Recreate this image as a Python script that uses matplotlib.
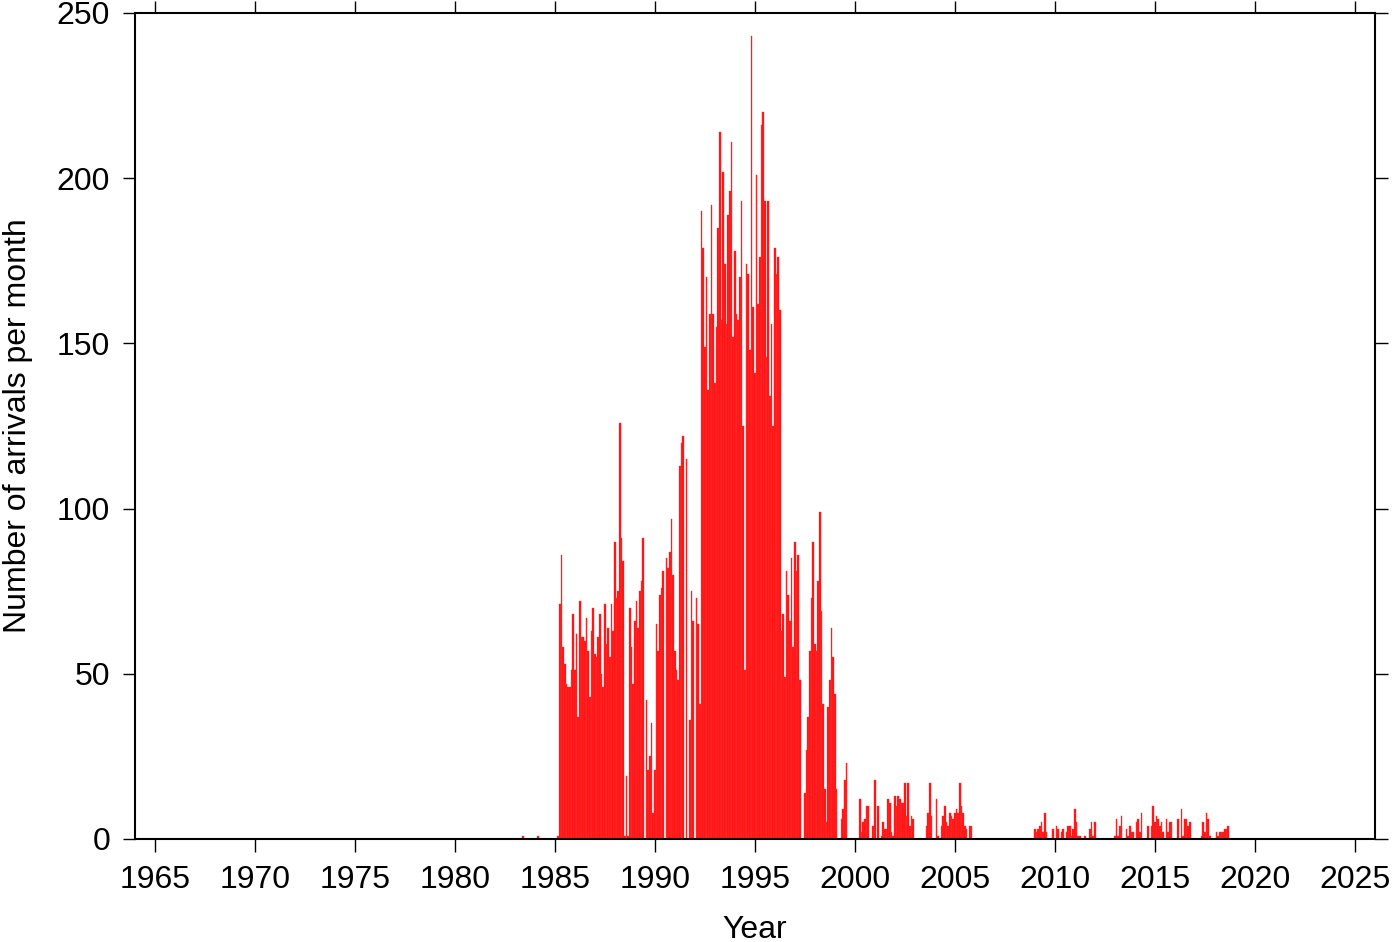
"""Monthly arrivals bar chart, GMT-like frame, saved as out.png."""
import matplotlib

matplotlib.use("Agg")
import matplotlib.pyplot as plt
import numpy as np

# monthly counts, one row per year (Jan..Dec)
START_YEAR = 1983
counts_1983_1991 = [
    [0, 0, 0, 0, 1, 0, 0, 0, 0, 0, 0, 0],                    # 1983
    [0, 1, 0, 0, 0, 0, 0, 0, 0, 0, 0, 0],                    # 1984
    [0, 1, 71, 86, 58, 53, 47, 46, 46, 51, 68, 51],          # 1985
    [62, 37, 72, 61, 61, 60, 67, 57, 43, 63, 70, 56],        # 1986
    [55, 61, 68, 50, 46, 71, 59, 64, 55, 71, 63, 90],        # 1987
    [73, 75, 126, 91, 84, 1, 19, 1, 70, 58, 47, 66],         # 1988
    [72, 64, 75, 78, 91, 0, 42, 21, 25, 35, 8, 21],          # 1989
    [65, 57, 74, 76, 81, 0, 85, 82, 87, 97, 80, 57],         # 1990
    [51, 48, 113, 120, 122, 0, 115, 0, 36, 75, 66, 0],       # 1991
]
counts_1992_1999 = [
    [73, 65, 41, 190, 179, 149, 170, 136, 159, 192, 159, 138],   # 1992
    [155, 185, 214, 157, 202, 174, 156, 189, 196, 211, 152, 178],  # 1993
    [159, 157, 170, 193, 125, 51, 174, 171, 148, 243, 161, 141],  # 1994
    [201, 162, 176, 216, 220, 193, 146, 193, 134, 156, 125, 179],  # 1995
    [171, 176, 160, 63, 68, 49, 81, 74, 66, 85, 58, 90],     # 1996
    [81, 86, 48, 0, 0, 14, 27, 37, 57, 73, 90, 59],          # 1997
    [57, 78, 99, 69, 41, 15, 5, 40, 48, 64, 55, 44],         # 1998
    [15, 0, 0, 6, 9, 18, 23, 0, 0, 0, 0, 0],                 # 1999
]
counts_2000_2009 = [
    [0, 0, 12, 2, 5, 6, 10, 10, 0, 0, 4, 18],                # 2000
    [0, 10, 0, 1, 5, 3, 3, 12, 11, 2, 1, 13],                # 2001
    [10, 13, 12, 11, 11, 17, 7, 17, 4, 7, 6, 0],             # 2002
    [0, 0, 0, 0, 0, 0, 4, 8, 17, 7, 0, 0],                   # 2003
    [12, 1, 0, 4, 7, 10, 5, 4, 8, 7, 6, 8],                  # 2004
    [9, 8, 17, 10, 8, 4, 3, 0, 4, 4, 0, 0],                  # 2005
    [0, 0, 0, 0, 0, 0, 0, 0, 0, 0, 0, 0],                    # 2006
    [0, 0, 0, 0, 0, 0, 0, 0, 0, 0, 0, 0],                    # 2007
    [0, 0, 0, 0, 0, 0, 0, 0, 0, 0, 0, 3],                    # 2008
    [2, 3, 4, 5, 2, 8, 2, 0, 0, 0, 3, 0],                    # 2009
]
counts_2010_2018 = [
    [4, 3, 0, 2, 3, 0, 2, 4, 4, 1, 3, 9],                    # 2010
    [5, 1, 1, 0, 0, 1, 0, 0, 3, 5, 1, 5],                    # 2011
    [0, 0, 0, 0, 0, 0, 0, 0, 0, 0, 0, 1],                    # 2012
    [6, 1, 4, 7, 0, 0, 3, 1, 4, 2, 2, 0],                    # 2013
    [5, 6, 2, 8, 0, 0, 0, 4, 0, 4, 10, 5],                   # 2014
    [7, 6, 4, 5, 2, 0, 6, 2, 5, 5, 0, 0],                    # 2015
    [0, 6, 0, 9, 1, 6, 6, 4, 5, 0, 0, 0],                    # 2016
    [0, 0, 0, 1, 5, 2, 8, 6, 1, 0, 0, 0],                    # 2017
    [2, 1, 2, 2, 2, 3, 3, 4, 0, 0, 0, 0],                    # 2018
]

x_ticks = list(range(1965, 2030, 5))
y_ticks = [0, 50, 100, 150, 200, 250]
XLIM = (1964, 2026)
YLIM = (0, 250)

FONT = ["Liberation Sans", "DejaVu Sans"]
BAR_FACE = "#ff1010"
BAR_EDGE = "#ff3535"


def main():
    plt.rcParams["font.family"] = FONT

    rows = counts_1983_1991 + counts_1992_1999 + counts_2000_2009 + counts_2010_2018
    counts = np.array(rows, dtype=float).ravel()
    t = START_YEAR + np.arange(counts.size) / 12.0
    keep = counts > 0

    fig = plt.figure(figsize=(14, 9.42), dpi=100)
    ax = fig.add_axes([135 / 1400, 1 - 839 / 942, 1240 / 1400, 826 / 942])

    # GMT draws each month a touch right of the month start
    ax.bar(t[keep] + 0.04, counts[keep], width=1 / 12, align="edge",
           color=BAR_FACE, edgecolor=BAR_EDGE, linewidth=0.3)

    ax.set_xlim(*XLIM)
    ax.set_ylim(*YLIM)
    ax.set_xticks(x_ticks)
    ax.set_yticks(y_ticks)

    for s in ax.spines.values():
        s.set_linewidth(1.5)
    ax.tick_params(axis="both", which="major", direction="out", length=9, width=1.0,
                   labelsize=23, top=True, right=True)
    ax.tick_params(axis="x", pad=9.5)
    ax.tick_params(axis="y", pad=9)

    ax.set_xlabel("Year", fontsize=23, labelpad=14.5)
    ax.set_ylabel("Number of arrivals per month", fontsize=23, labelpad=17)

    fig.savefig("out.png", dpi=100)
    plt.close(fig)


if __name__ == "__main__":
    main()
